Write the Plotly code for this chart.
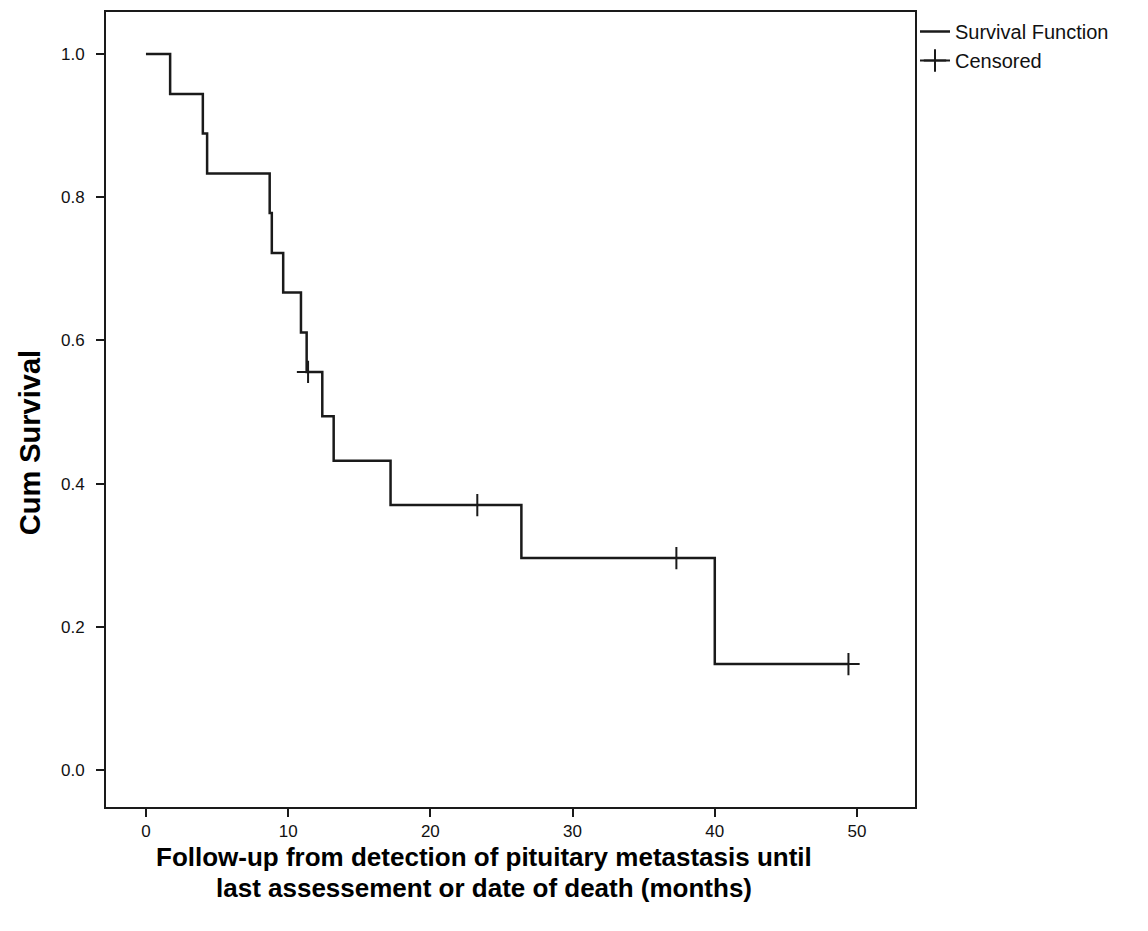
import plotly.graph_objects as go

# Kaplan-Meier step data (months, cumulative survival)
step_times = [0.0, 1.7, 4.0, 4.3, 8.7, 8.85, 9.65, 10.9, 11.3, 12.4, 13.2, 17.2, 26.4, 40.0, 49.4]
step_surv = [1.0, 0.944, 0.889, 0.833, 0.778, 0.722, 0.667, 0.611, 0.556, 0.494, 0.432, 0.370, 0.296, 0.148, 0.148]

censor_times = [11.4, 23.3, 37.3, 49.4]
censor_surv = [0.556, 0.370, 0.296, 0.148]

x_ticks = [0, 10, 20, 30, 40, 50]
y_ticks = [0.0, 0.2, 0.4, 0.6, 0.8, 1.0]
y_ticklabels = ["0.0", "0.2", "0.4", "0.6", "0.8", "1.0"]

# page has an 8px body margin, so the figure is 8px smaller than the window
W, H = 1140, 923
ML, MR, MT, MB = 98, 233, 2, 124
FONT = "Liberation Sans, Arial"
INK = "#1a1a1a"

fig = go.Figure()
fig.add_trace(go.Scatter(
    x=step_times, y=step_surv, mode="lines", line_shape="hv",
    line=dict(color=INK, width=2.5), name="Survival Function",
))
fig.add_trace(go.Scatter(
    x=censor_times, y=censor_surv, mode="markers",
    marker=dict(symbol="cross-thin", size=16, line=dict(color=INK, width=2)),
    name="Censored", showlegend=False,
))
# legend entry for censored (line with a cross, as in the reference)
fig.add_trace(go.Scatter(
    x=[None], y=[None], mode="lines+markers",
    line=dict(color=INK, width=2),
    marker=dict(symbol="cross-thin", size=16, line=dict(color=INK, width=2)),
    name="Censored",
))

axis_common = dict(
    showgrid=False, zeroline=False, showline=True, mirror=True,
    linecolor=INK, linewidth=2, ticks="outside", ticklen=8,
    tickcolor=INK, tickwidth=1.5,
    tickfont=dict(family=FONT, size=17, color="#111"),
)
fig.update_xaxes(range=[-2.81, 54.08], tickvals=x_ticks, ticklabelstandoff=0, **axis_common)
fig.update_yaxes(range=[-0.0515, 1.0585], tickvals=y_ticks, ticktext=y_ticklabels,
                 ticklabelstandoff=8, **axis_common)

title_font = dict(family=FONT, size=26, color="#000", weight="bold")
fig.add_annotation(
    text="Follow-up from detection of pituitary metastasis until",
    xref="paper", yref="paper", x=0.467, y=-0.0635, xanchor="center", yanchor="middle",
    showarrow=False, font=title_font,
)
fig.add_annotation(
    text="last assessement or date of death (months)",
    xref="paper", yref="paper", x=0.467, y=-0.1025, xanchor="center", yanchor="middle",
    showarrow=False, font=title_font,
)
fig.add_annotation(
    text="Cum Survival", textangle=-90,
    xref="paper", yref="paper", x=-0.0935, y=0.458, xanchor="center", yanchor="middle",
    showarrow=False,
    font=dict(family=FONT, size=29, color="#000", weight="bold"),
)

fig.update_layout(
    width=W, height=H,
    margin=dict(l=ML, r=MR, t=MT, b=MB),
    paper_bgcolor="white", plot_bgcolor="white",
    legend=dict(x=1.0, xanchor="left", y=1.0, yanchor="top",
                font=dict(family=FONT, size=20, color="#111"),
                bgcolor="rgba(0,0,0,0)", itemwidth=30, tracegroupgap=0,
                borderwidth=0),
    showlegend=True,
)

fig.write_html("out.html")
